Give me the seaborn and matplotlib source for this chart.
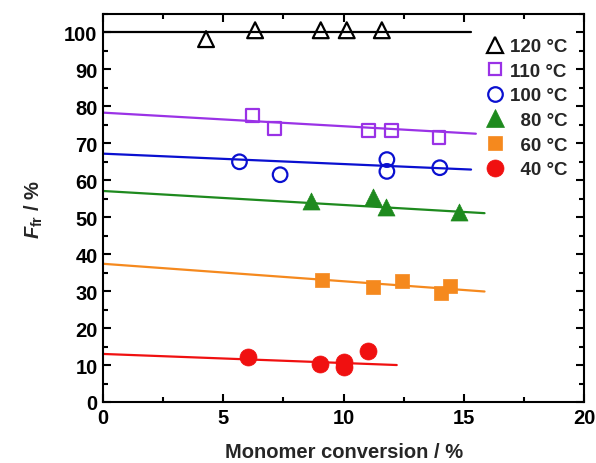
import matplotlib
matplotlib.use("Agg")
import matplotlib.pyplot as plt
from matplotlib.ticker import MultipleLocator
import seaborn as sns

# Measured fraction of fragmentation vs monomer conversion
x_120 = [4.28, 6.32, 9.05, 10.13, 11.59]
y_120 = [98.2, 100.6, 100.6, 100.6, 100.6]
x_110 = [6.22, 7.12, 11.03, 11.98, 13.97]
y_110 = [77.6, 74.0, 73.4, 73.5, 71.5]
x_100 = [5.67, 7.36, 11.8, 11.8, 14.0]
y_100 = [65.0, 61.5, 65.6, 62.4, 63.4]
x_80 = [8.64, 11.24, 11.77, 14.8]
y_80 = [54.3, 55.5, 52.8, 51.4]
x_60 = [9.12, 11.24, 12.42, 14.04, 14.43]
y_60 = [33.1, 31.1, 32.7, 29.5, 31.5]
x_40 = [6.04, 9.02, 10.03, 10.03, 11.03]
y_40 = [12.1, 10.3, 10.9, 9.4, 13.9]

# Linear fits (start and end of each fitted line)
fit_x_120 = [0.0, 15.3]
fit_y_120 = [100.0, 100.0]
fit_x_110 = [0.0, 15.5]
fit_y_110 = [78.3, 72.6]
fit_x_100 = [0.0, 15.3]
fit_y_100 = [67.2, 62.9]
fit_x_80 = [0.0, 15.86]
fit_y_80 = [57.1, 51.1]
fit_x_60 = [0.0, 15.86]
fit_y_60 = [37.4, 29.9]
fit_x_40 = [0.0, 12.21]
fit_y_40 = [13.0, 10.0]

labels = ["120 °C", "110 °C", "100 °C", "  80 °C", "  60 °C", "  40 °C"]

sns.set_theme(style="ticks")
plt.rcParams["font.family"] = ["Liberation Sans", "DejaVu Sans"]
plt.rcParams["font.weight"] = "bold"
plt.rcParams["mathtext.fontset"] = "custom"
plt.rcParams["mathtext.it"] = "Liberation Sans:italic:bold"
plt.rcParams["mathtext.rm"] = "Liberation Sans:bold"
plt.rcParams["mathtext.bf"] = "Liberation Sans:bold"

fig = plt.figure(figsize=(5.96, 4.64), dpi=100)
ax = fig.add_axes([0.173, 0.1315, 0.807, 0.8362])

series = [
    (x_120, y_120, fit_x_120, fit_y_120, "#000000", "^", False, 130),
    (x_110, y_110, fit_x_110, fit_y_110, "#9A32E6", "s", False, 85),
    (x_100, y_100, fit_x_100, fit_y_100, "#0A10D0", "o", False, 110),
    (x_80, y_80, fit_x_80, fit_y_80, "#1E8A1E", "^", True, 150),
    (x_60, y_60, fit_x_60, fit_y_60, "#F5891E", "s", True, 110),
    (x_40, y_40, fit_x_40, fit_y_40, "#F01010", "o", True, 150),
]

handles = []
for (xs, ys, fx, fy, c, m, filled, s), lab in zip(series, labels):
    sns.lineplot(x=fx, y=fy, color=c, lw=1.6, ax=ax, zorder=2)
    if filled:
        sns.scatterplot(x=xs, y=ys, marker=m, s=s, fc=c, ec=c, lw=0.5,
                        ax=ax, zorder=3)
        h = plt.Line2D([], [], ls="none", marker=m, ms=(s ** 0.5),
                       mfc=c, mec=c, mew=0.5)
    else:
        sns.scatterplot(x=xs, y=ys, marker=m, s=s, fc="none", ec=c, lw=1.6,
                        ax=ax, zorder=3)
        h = plt.Line2D([], [], ls="none", marker=m, ms=(s ** 0.5),
                       mfc="none", mec=c, mew=1.6)
    handles.append(h)

ax.set_xlim(0, 20)
ax.set_ylim(0, 105)
ax.xaxis.set_major_locator(MultipleLocator(5))
ax.xaxis.set_minor_locator(MultipleLocator(2.5))
ax.yaxis.set_major_locator(MultipleLocator(10))
ax.yaxis.set_minor_locator(MultipleLocator(5))
ax.tick_params(which="both", direction="in", top=True, right=True,
               width=1.5, colors="black")
ax.tick_params(which="major", length=6, labelsize=14.5, pad=4)
ax.tick_params(which="minor", length=3.5)
for sp in ax.spines.values():
    sp.set_linewidth(1.5)
    sp.set_color("black")
    sp.set_visible(True)
for t in ax.get_xticklabels() + ax.get_yticklabels():
    t.set_fontweight("bold")

ax.set_xlabel("Monomer conversion / %", fontsize=14.5, fontweight="bold",
              labelpad=11)
ax.set_ylabel(r"$F_{\mathrm{fr}}$ / %", fontsize=14.5, fontweight="bold",
              labelpad=14)

leg = ax.legend(handles, labels, loc="upper right",
                bbox_to_anchor=(0.99, 0.967), frameon=False,
                fontsize=13.5, handlelength=1.0, handletextpad=0.3,
                labelspacing=0.40, borderaxespad=0.2)
for t in leg.get_texts():
    t.set_fontweight("bold")

fig.savefig("out.png", dpi=100)
